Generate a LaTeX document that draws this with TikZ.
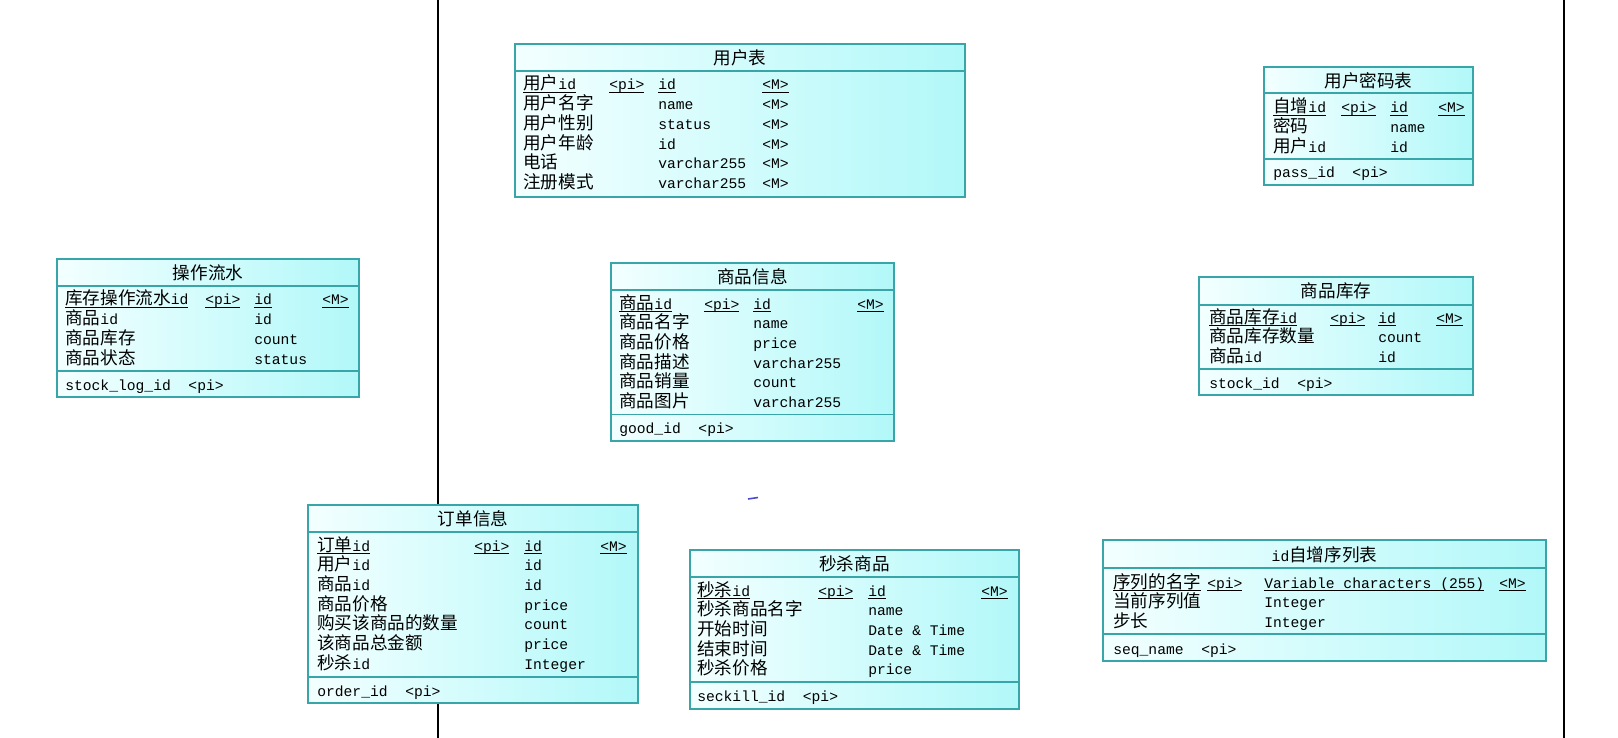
\documentclass[tikz,border=0pt]{standalone}
\usepackage{fontspec}
\setmainfont{Liberation Mono}
\newfontfamily\cjk[Scale=1.2]{Noto Sans CJK SC}
\newcommand\zh[1]{{\cjk #1}}
\newcommand\pk[1]{\setbox0=\hbox{#1}\rlap{\rule[-2.2pt]{\wd0}{0.6pt}}\box0}
\definecolor{erline}{HTML}{38A6A9}
\definecolor{ercyan}{HTML}{B2F8F9}
\definecolor{erwhite}{HTML}{F3FFFF}
\definecolor{ermark}{HTML}{4B4BD2}
\tikzset{
  tbl/.style={draw=erline,line width=0.9pt,left color=erwhite,right color=ercyan},
  sep/.style={draw=erline,line width=0.9pt},
  ttl/.style={inner sep=0pt,font=\fontsize{11}{13}\selectfont},
  cell/.style={anchor=base west,inner sep=0pt,font=\fontsize{11}{13}\selectfont},
  wall/.style={draw=black,line width=1pt},
}
\begin{document}
\begin{tikzpicture}[x=0.75pt,y=-0.75pt]
  \path[use as bounding box,fill=white] (0,0) rectangle (1618,738);
  \draw[wall] (438,0) -- (438,738);
  \draw[wall] (1564,0) -- (1564,738);
  \draw[ermark,line width=1.2pt] (748,499) -- (758,497.5);

  \begin{scope}[shift={(515,44)}]
    \draw[tbl] (0,0) rectangle (450,153);
    \draw[sep] (0,27) -- (450,27);
    \node[ttl] (user) at (225,14) {\zh{用户表}};
    \node[cell] (user-a0) at (8,46) {\pk{\zh{用户}id}};
    \node[cell] (user-b0) at (94,46) {\pk{<pi>}};
    \node[cell] (user-c0) at (143,46) {\pk{id}};
    \node[cell] (user-d0) at (247,46) {\pk{<M>}};
    \foreach \a/\c/\d [count=\k] in {\zh{用户名字}/name/<M>,\zh{用户性别}/status/<M>,\zh{用户年龄}/id/<M>,\zh{电话}/varchar255/<M>,\zh{注册模式}/varchar255/<M>} {
      \node[cell] (user-a\k) at (8,{46+19.7*\k}) {\a};
      \node[cell] (user-c\k) at (143,{46+19.7*\k}) {\c};
      \node[cell] (user-d\k) at (247,{46+19.7*\k}) {\d};
    }
  \end{scope}

  \begin{scope}[shift={(1264,67)}]
    \draw[tbl] (0,0) rectangle (209,118);
    \draw[sep] (0,26) -- (209,26);
    \draw[sep] (0,92) -- (209,92);
    \node[ttl] (pass) at (104.5,14) {\zh{用户密码表}};
    \node[cell] (pass-a0) at (9,46) {\pk{\zh{自增}id}};
    \node[cell] (pass-b0) at (77,46) {\pk{<pi>}};
    \node[cell] (pass-c0) at (126,46) {\pk{id}};
    \node[cell] (pass-d0) at (174,46) {\pk{<M>}};
    \foreach \a/\c [count=\k] in {\zh{密码}/name,{\zh{用户}id}/id} {
      \node[cell] (pass-a\k) at (9,{46+19.7*\k}) {\a};
      \node[cell] (pass-c\k) at (126,{46+19.7*\k}) {\c};
    }
    \node[cell] (pass-key) at (9,111) {pass\_id~~<pi>};
  \end{scope}

  \begin{scope}[shift={(57,259)}]
    \draw[tbl] (0,0) rectangle (302,138);
    \draw[sep] (0,27) -- (302,27);
    \draw[sep] (0,112) -- (302,112);
    \node[ttl] (log) at (151,14) {\zh{操作流水}};
    \node[cell] (log-a0) at (8,46) {\pk{\zh{库存操作流水}id}};
    \node[cell] (log-b0) at (148,46) {\pk{<pi>}};
    \node[cell] (log-c0) at (197,46) {\pk{id}};
    \node[cell] (log-d0) at (265,46) {\pk{<M>}};
    \foreach \a/\c [count=\k] in {{\zh{商品}id}/id,\zh{商品库存}/count,\zh{商品状态}/status} {
      \node[cell] (log-a\k) at (8,{46+19.7*\k}) {\a};
      \node[cell] (log-c\k) at (197,{46+19.7*\k}) {\c};
    }
    \node[cell] (log-key) at (8,131) {stock\_log\_id~~<pi>};
  \end{scope}

  \begin{scope}[shift={(611,263)}]
    \draw[tbl] (0,0) rectangle (283,178);
    \draw[sep] (0,27) -- (283,27);
    \draw[sep] (0,151.5) -- (283,151.5);
    \node[ttl] (good) at (141.5,14) {\zh{商品信息}};
    \node[cell] (good-a0) at (8,46) {\pk{\zh{商品}id}};
    \node[cell] (good-b0) at (93,46) {\pk{<pi>}};
    \node[cell] (good-c0) at (142,46) {\pk{id}};
    \node[cell] (good-d0) at (246,46) {\pk{<M>}};
    \foreach \a/\c [count=\k] in {\zh{商品名字}/name,\zh{商品价格}/price,\zh{商品描述}/varchar255,\zh{商品销量}/count,\zh{商品图片}/varchar255} {
      \node[cell] (good-a\k) at (8,{46+19.7*\k}) {\a};
      \node[cell] (good-c\k) at (142,{46+19.7*\k}) {\c};
    }
    \node[cell] (good-key) at (8,170.5) {good\_id~~<pi>};
  \end{scope}

  \begin{scope}[shift={(1199,277)}]
    \draw[tbl] (0,0) rectangle (274,118);
    \draw[sep] (0,28) -- (274,28);
    \draw[sep] (0,92) -- (274,92);
    \node[ttl] (stock) at (137,14) {\zh{商品库存}};
    \node[cell] (stock-a0) at (10,46) {\pk{\zh{商品库存}id}};
    \node[cell] (stock-b0) at (131,46) {\pk{<pi>}};
    \node[cell] (stock-c0) at (179,46) {\pk{id}};
    \node[cell] (stock-d0) at (237,46) {\pk{<M>}};
    \foreach \a/\c [count=\k] in {\zh{商品库存数量}/count,{\zh{商品}id}/id} {
      \node[cell] (stock-a\k) at (10,{46+19.7*\k}) {\a};
      \node[cell] (stock-c\k) at (179,{46+19.7*\k}) {\c};
    }
    \node[cell] (stock-key) at (10,111) {stock\_id~~<pi>};
  \end{scope}

  \begin{scope}[shift={(308,505)}]
    \draw[tbl] (0,0) rectangle (330,198);
    \draw[sep] (0,27) -- (330,27);
    \draw[sep] (0,172) -- (330,172);
    \node[ttl] (order) at (165,14) {\zh{订单信息}};
    \node[cell] (order-a0) at (9,46) {\pk{\zh{订单}id}};
    \node[cell] (order-b0) at (166,46) {\pk{<pi>}};
    \node[cell] (order-c0) at (216,46) {\pk{id}};
    \node[cell] (order-d0) at (292,46) {\pk{<M>}};
    \foreach \a/\c [count=\k] in {{\zh{用户}id}/id,{\zh{商品}id}/id,\zh{商品价格}/price,\zh{购买该商品的数量}/count,\zh{该商品总金额}/price,{\zh{秒杀}id}/Integer} {
      \node[cell] (order-a\k) at (9,{46+19.7*\k}) {\a};
      \node[cell] (order-c\k) at (216,{46+19.7*\k}) {\c};
    }
    \node[cell] (order-key) at (9,191) {order\_id~~<pi>};
  \end{scope}

  \begin{scope}[shift={(690,550)}]
    \draw[tbl] (0,0) rectangle (329,159);
    \draw[sep] (0,27) -- (329,27);
    \draw[sep] (0,132) -- (329,132);
    \node[ttl] (kill) at (164.5,14) {\zh{秒杀商品}};
    \node[cell] (kill-a0) at (7,46) {\pk{\zh{秒杀}id}};
    \node[cell] (kill-b0) at (128,46) {\pk{<pi>}};
    \node[cell] (kill-c0) at (178,46) {\pk{id}};
    \node[cell] (kill-d0) at (291,46) {\pk{<M>}};
    \foreach \a/\c [count=\k] in {\zh{秒杀商品名字}/name,\zh{开始时间}/Date \& Time,\zh{结束时间}/Date \& Time,\zh{秒杀价格}/price} {
      \node[cell] (kill-a\k) at (7,{46+19.7*\k}) {\a};
      \node[cell] (kill-c\k) at (178,{46+19.7*\k}) {\c};
    }
    \node[cell] (kill-key) at (7,151) {seckill\_id~~<pi>};
  \end{scope}

  \begin{scope}[shift={(1103,540)}]
    \draw[tbl] (0,0) rectangle (443,121);
    \draw[sep] (0,28) -- (443,28);
    \draw[sep] (0,94) -- (443,94);
    \node[ttl] (seq) at (221.5,15) {id\zh{自增序列表}};
    \node[cell] (seq-a0) at (10,48) {\pk{\zh{序列的名字}}};
    \node[cell] (seq-b0) at (104,48) {\pk{<pi>}};
    \node[cell] (seq-c0) at (161,48) {\pk{Variable characters (255)}};
    \node[cell] (seq-d0) at (396,48) {\pk{<M>}};
    \foreach \a/\c [count=\k] in {\zh{当前序列值}/Integer,\zh{步长}/Integer} {
      \node[cell] (seq-a\k) at (10,{48+19.7*\k}) {\a};
      \node[cell] (seq-c\k) at (161,{48+19.7*\k}) {\c};
    }
    \node[cell] (seq-key) at (10,114) {seq\_name~~<pi>};
  \end{scope}
\end{tikzpicture}
\end{document}
